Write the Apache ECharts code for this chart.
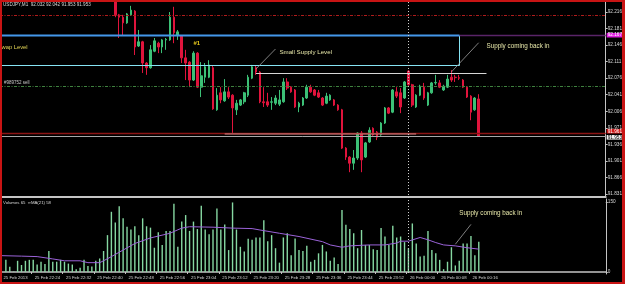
<!DOCTYPE html>
<html><head><meta charset="utf-8">
<script src="https://cdn.jsdelivr.net/npm/echarts@6/dist/echarts.min.js"></script>
<style>
html,body{margin:0;padding:0;background:#000;}
#wrap{position:relative;width:625px;height:284px;background:#000;overflow:hidden;}
#chart{position:absolute;left:0;top:0;width:625px;height:284px;}
#frame{position:absolute;left:0;top:0;width:625px;height:284px;box-sizing:border-box;border:solid #c81414;border-width:2px 3px 2px 2px;pointer-events:none;}
</style></head><body>
<div id="wrap"><div id="chart"></div><div id="frame"></div></div>
<script>
// ---------- data ----------
const titleText = 'USDJPY,M1  92.032 92.042 91.953 91.953';
const volumeTitle = 'Volumes 65  \u221EMA(21) 58';
const firstMinute = 22 * 60 + 16;      // first category = 25 Feb 22:16
const barCount = 155;                  // categories incl. empty right margin
const xTickStep = 8;
const xTickLabels = ['25 Feb 2013', '25 Feb 22:24', '25 Feb 22:32', '25 Feb 22:40', '25 Feb 22:48',
  '25 Feb 22:56', '25 Feb 23:04', '25 Feb 23:12', '25 Feb 23:20', '25 Feb 23:28', '25 Feb 23:36',
  '25 Feb 23:44', '25 Feb 23:52', '26 Feb 00:00', '26 Feb 00:08', '26 Feb 00:16'];
const priceTicks = [92.216, 92.181, 92.146, 92.111, 92.076, 92.041, 92.006, 91.971, 91.936, 91.901, 91.866, 91.831];
const volumeTicks = [0, 150];
const firstCandle = 29;                // category index of first visible candle
// [open, close, low, high]
const candles = [
  [92.260, 92.210, 92.205, 92.270], [92.210, 92.205, 92.161, 92.212], [92.205, 92.193, 92.167, 92.210],
  [92.193, 92.212, 92.191, 92.214], [92.210, 92.220, 92.208, 92.229], [92.218, 92.142, 92.125, 92.220],
  [92.144, 92.153, 92.142, 92.178], [92.153, 92.108, 92.087, 92.155], [92.108, 92.098, 92.083, 92.110],
  [92.098, 92.136, 92.096, 92.146], [92.133, 92.155, 92.131, 92.161], [92.150, 92.142, 92.129, 92.153],
  [92.142, 92.157, 92.129, 92.159], [92.157, 92.158, 92.136, 92.161], [92.157, 92.205, 92.155, 92.216],
  [92.205, 92.172, 92.150, 92.227], [92.167, 92.174, 92.157, 92.178], [92.165, 92.119, 92.108, 92.167],
  [92.119, 92.108, 92.072, 92.136], [92.110, 92.072, 92.057, 92.112], [92.072, 92.129, 92.070, 92.133],
  [92.129, 92.057, 92.055, 92.131], [92.057, 92.081, 92.036, 92.110], [92.078, 92.100, 92.066, 92.108],
  [92.078, 92.104, 92.076, 92.114], [92.098, 92.011, 92.009, 92.102], [92.009, 92.040, 92.007, 92.055],
  [92.045, 92.030, 92.023, 92.057], [92.028, 92.047, 92.026, 92.074], [92.047, 92.036, 92.032, 92.057],
  [92.040, 92.013, 91.960, 92.042], [92.009, 92.023, 91.998, 92.030], [92.019, 92.030, 92.017, 92.032],
  [92.026, 92.045, 92.021, 92.047], [92.040, 92.078, 92.036, 92.083], [92.076, 92.100, 92.074, 92.104],
  [92.098, 92.089, 92.083, 92.102], [92.089, 92.026, 92.023, 92.091], [92.026, 92.024, 92.015, 92.057],
  [92.026, 92.019, 92.015, 92.045], [92.025, 92.026, 92.009, 92.036], [92.023, 92.034, 92.019, 92.040],
  [92.021, 92.030, 92.017, 92.051], [92.026, 92.068, 92.024, 92.076], [92.068, 92.055, 92.051, 92.076],
  [92.057, 92.047, 92.045, 92.059], [92.051, 92.015, 92.013, 92.053], [92.015, 92.023, 92.004, 92.026],
  [92.019, 92.034, 92.017, 92.036], [92.034, 92.057, 92.032, 92.062], [92.057, 92.047, 92.045, 92.062],
  [92.051, 92.040, 92.038, 92.053], [92.045, 92.036, 92.034, 92.051], [92.034, 92.019, 92.017, 92.036],
  [92.023, 92.038, 92.021, 92.045], [92.030, 92.040, 92.028, 92.042], [92.030, 92.019, 92.017, 92.032],
  [92.019, 92.009, 92.007, 92.021], [92.009, 91.928, 91.926, 92.011], [91.928, 91.909, 91.903, 91.930],
  [91.909, 91.896, 91.877, 91.911], [91.896, 91.907, 91.882, 91.924], [91.907, 91.960, 91.903, 91.962],
  [91.960, 91.903, 91.877, 91.964], [91.909, 91.939, 91.907, 91.941], [91.941, 91.966, 91.939, 91.972],
  [91.970, 91.956, 91.954, 91.972], [91.962, 91.951, 91.945, 91.964], [91.956, 91.981, 91.954, 91.983],
  [91.981, 92.013, 91.979, 92.015], [92.013, 92.002, 92.000, 92.015], [92.004, 92.051, 92.002, 92.053],
  [92.047, 92.038, 92.034, 92.057], [92.045, 92.015, 92.002, 92.055], [92.034, 92.068, 92.032, 92.070],
  [92.091, 92.062, 92.060, 92.093], [92.062, 92.019, 92.015, 92.064], [92.015, 92.040, 92.013, 92.042],
  [92.040, 92.059, 92.038, 92.062], [92.057, 92.034, 92.030, 92.066], [92.019, 92.045, 92.017, 92.047],
  [92.045, 92.066, 92.043, 92.068], [92.066, 92.067, 92.062, 92.083], [92.066, 92.057, 92.055, 92.072],
  [92.051, 92.059, 92.049, 92.062], [92.057, 92.074, 92.055, 92.083], [92.078, 92.072, 92.068, 92.093],
  [92.078, 92.077, 92.068, 92.083], [92.077, 92.076, 92.072, 92.083], [92.072, 92.057, 92.055, 92.074],
  [92.057, 92.036, 92.034, 92.059], [92.038, 92.004, 91.987, 92.040], [92.009, 92.034, 92.007, 92.036],
  [92.032, 91.953, 91.953, 92.042]
];
const firstVolume = 1;
const volumes = [
  26, 11, 1, 24, 15, 24, 26, 26, 16, 22, 17, 45, 22, 22, 26, 22, 18, 16, 6, 9,
  26, 13, 12, 24, 29, 45, 79, 129, 106, 141, 115, 97, 91, 98, 79, 115, 98, 95, 52, 85,
  58, 88, 88, 146, 54, 108, 122, 88, 108, 92, 142, 91, 81, 91, 136, 91, 102, 47, 149, 91,
  54, 44, 71, 69, 74, 74, 111, 66, 79, 51, 20, 74, 83, 36, 72, 47, 45, 56, 22, 26,
  40, 58, 44, 24, 31, 17, 133, 101, 92, 83, 51, 90, 58, 58, 49, 47, 94, 76, 58, 99,
  74, 76, 64, 51, 104, 61, 33, 35, 88, 47, 40, 26, 6, 22, 53, 14, 24, 61, 61, 77,
  36, 65
];
// MA(21) line read at points: [category index, value]
const maPoints = [[0, 35], [5, 34], [9, 33], [13, 28], [16, 24], [20, 24], [22, 20], [25, 20], [26, 24],
  [28, 33], [31, 47], [34, 61], [38, 73], [43, 83], [46, 94], [48, 97], [54, 96], [59, 94], [64, 93],
  [66, 90], [71, 83], [76, 76], [82, 65], [84, 58], [87, 53], [89, 56], [94, 58], [98, 58], [101, 62],
  [102, 66], [104, 66], [107, 74], [109, 69], [111, 63], [113, 58], [116, 56], [119, 52], [122, 49]];
// price levels / objects
const redDashLevel = 92.210;
const boxTop = 92.167, boxBottom = 92.103, boxRightIdx = 117;
const sellLevel = 92.059;
const smallSupplyLevel = 92.087, smallSupplyFrom = 65, smallSupplyTo = 124;
const redLevel = 91.961;
const supportLevel = 91.959, supportFrom = 57, supportTo = 106;
const bidLevel = 91.953;
const midnightIdx = 104;

// ---------- chart ----------
const categories = [];
for (let k = 0; k < barCount; k++) {
  const m = (firstMinute + k) % 1440;
  categories.push(String(Math.floor(m / 60)).padStart(2, '0') + ':' + String(m % 60).padStart(2, '0'));
}
const candleData = [];
for (let k = 0; k < firstCandle; k++) candleData.push('-');
candles.forEach(c => candleData.push(c));
const volData = [];
for (let k = 0; k < firstVolume; k++) volData.push('-');
volumes.forEach(v => volData.push(v));

const FONT = '"Liberation Sans", Arial, sans-serif';
const AXC = '#c4c4c4';
const gridLeft = -1.26, gridWidth = 607.06;
const isTick = (i) => i % xTickStep === 0 && i / xTickStep < xTickLabels.length;

const chart = echarts.init(document.getElementById('chart'), null, { renderer: 'canvas' });
const option = {
  backgroundColor: '#000',
  animation: false,
  grid: [
    { left: gridLeft, top: 2, width: gridWidth, height: 195 },
    { left: gridLeft, top: 199, width: gridWidth, height: 75 }
  ],
  xAxis: [
    { type: 'category', gridIndex: 0, data: categories, boundaryGap: true,
      axisLine: { show: true, lineStyle: { color: AXC, width: 2 } },
      axisTick: { show: false }, axisLabel: { show: false }, splitLine: { show: false } },
    { type: 'category', gridIndex: 1, data: categories, boundaryGap: true,
      axisLine: { show: true, lineStyle: { color: AXC, width: 1.5 } },
      axisTick: { show: true, interval: isTick, length: 2, lineStyle: { color: AXC } },
      axisLabel: { show: true, interval: isTick, align: 'left', margin: 2, padding: [0, 0, 0, 1.5],
        color: '#d8d8d8', fontSize: 4.3, fontFamily: FONT,
        formatter: (v, i) => xTickLabels[i / xTickStep] || '' },
      splitLine: { show: false } }
  ],
  yAxis: [
    { type: 'value', gridIndex: 0, position: 'right', min: 91.8245, max: 92.2372,
      axisLine: { show: true, lineStyle: { color: AXC, width: 1 } },
      axisTick: { show: true, length: 2, customValues: priceTicks, lineStyle: { color: AXC } },
      axisLabel: { show: true, margin: 2, customValues: priceTicks, color: '#d8d8d8', fontSize: 4.7, fontFamily: FONT,
        formatter: v => v.toFixed(3) },
      splitLine: { show: false } },
    { type: 'value', gridIndex: 1, position: 'right', min: -4.29, max: 156.4,
      axisLine: { show: true, lineStyle: { color: AXC, width: 1 } },
      axisTick: { show: true, length: 2, customValues: volumeTicks, lineStyle: { color: AXC } },
      axisLabel: { show: true, margin: 2, customValues: volumeTicks, color: '#d8d8d8', fontSize: 4.7, fontFamily: FONT },
      splitLine: { show: false } }
  ],
  series: [
    { type: 'candlestick', xAxisIndex: 0, yAxisIndex: 0, data: candleData, clip: true,
      barWidth: 2.1,
      itemStyle: { color: '#3cc076', color0: '#e0143c', borderColor: '#3cc076', borderColor0: '#e0143c', borderWidth: 1 },
      z: 3 },
    { type: 'bar', xAxisIndex: 1, yAxisIndex: 1, data: volData, barWidth: 1.4,
      itemStyle: { color: '#86d8a2' } },
    { type: 'line', xAxisIndex: 1, yAxisIndex: 1, data: maPoints, symbol: 'none',
      lineStyle: { color: '#9b63d9', width: 1 }, z: 4 }
  ]
};
chart.setOption(option);

// ---------- annotation objects placed through the axes ----------
const P = (i, v) => chart.convertToPixel({ gridIndex: 0 }, [i, v]);
const V = (i, v) => chart.convertToPixel({ gridIndex: 1 }, [i, v]);
const bw = P(1, 92)[0] - P(0, 92)[0];
const axisX = P(barCount - 1, 92)[0] + bw / 2;
const yOf = v => Math.round(P(0, v)[1]) + 0.5;
const xOf = i => P(i, 92)[0];
const volTop = V(0, 156.4)[1], volBottom = V(0, -4.29)[1];

function hline(y, x1, x2, color, w, dash) {
  return { type: 'line', silent: true, z: 5, shape: { x1: x1, y1: y, x2: x2, y2: y },
    style: { stroke: color, lineWidth: w, lineDash: dash || null } };
}
function text(x, y, str, color, size, extra) {
  return Object.assign({ type: 'text', silent: true, z: 6, x: x, y: y,
    style: Object.assign({ text: str, fill: color, fontSize: size, fontFamily: FONT,
      align: 'left', verticalAlign: 'middle' }, extra || {}) });
}
const yTop = yOf(boxTop), yBot = yOf(boxBottom), xBox = Math.round(xOf(boxRightIdx)) + 0.5;
const dashDot = [3, 1.5, 1, 1.5];
const ssA = P(65.2, 92.0954), ssB = P(70.3, 92.1377);
const scA = P(114.9, 92.089), scB = P(122.4, 92.151);
const vA = V(116.2, 59.4), vB = V(119.6, 102);
const boxStyle = { padding: [0, 1, 0, 1], lineHeight: 4.6 };
const graphics = [
  hline(yOf(redDashLevel), 0, axisX, '#b01c1c', 1, dashDot),
  hline(yOf(sellLevel), 0, axisX, '#3f823f', 1, dashDot),
  { type: 'rect', silent: true, z: 5, shape: { x: 0, y: yTop, width: xBox, height: yBot - yTop },
    style: { fill: null, stroke: '#86e4f4', lineWidth: 1 } },
  hline(yTop, 0, xBox, '#4497ea', 2),
  hline(yTop, xBox, axisX, '#5a2468', 1.5),
  hline(yOf(smallSupplyLevel), xOf(smallSupplyFrom), xOf(smallSupplyTo), '#d6d6d6', 1),
  hline(yOf(redLevel), 0, axisX, '#8c1414', 1.5),
  hline(yOf(supportLevel) + 0.5, xOf(supportFrom), xOf(supportTo), '#d98a8a', 1),
  hline(yOf(bidLevel), 0, axisX, '#a8a8a8', 1),
  { type: 'line', silent: true, z: 5, shape: { x1: Math.round(xOf(midnightIdx)) + 0.5, y1: 2, x2: Math.round(xOf(midnightIdx)) + 0.5, y2: volBottom },
    style: { stroke: '#d0d0d0', lineWidth: 1, lineDash: [1, 2] } },
  { type: 'line', silent: true, z: 5, shape: { x1: ssA[0], y1: ssA[1], x2: ssB[0], y2: ssB[1] }, style: { stroke: '#a0a0a0', lineWidth: 0.8 } },
  { type: 'line', silent: true, z: 5, shape: { x1: scA[0], y1: scA[1], x2: scB[0], y2: scB[1] }, style: { stroke: '#a0a0a0', lineWidth: 0.8 } },
  { type: 'line', silent: true, z: 5, shape: { x1: vA[0], y1: vA[1], x2: vB[0], y2: vB[1] }, style: { stroke: '#a0a0a0', lineWidth: 0.8 } },
  text(P(71.3, 0)[0], P(0, 92.131)[1], 'Small Supply Level', '#e6e6a8', 6.2),
  text(P(123.9, 0)[0], P(0, 92.143)[1], 'Supply coming back in', '#e6e6a8', 6.3),
  text(V(116.9, 0)[0], V(0, 125.8)[1], 'Supply coming back in', '#e6e6a8', 6.3),
  text(P(49.4, 0)[0], P(0, 92.150)[1], '#1', '#e8c81c', 6, { fontWeight: 'bold' }),
  text(1.5, P(0, 92.141)[1], 'wap Level', '#e2d454', 5.8),
  text(4, P(0, 92.066)[1], '#989752 sell', '#c8c8c8', 4.5),
  text(3, 5, titleText, '#d8d8d8', 4.6),
  text(3, volTop + 3.5, volumeTitle, '#d8d8d8', 4.3),
  text(axisX + 1, P(0, boxTop)[1], boxTop.toFixed(3), '#ffffff', 4.7, Object.assign({ backgroundColor: '#e020e0' }, boxStyle)),
  text(axisX + 1, P(0, redLevel)[1] - 1.3, redLevel.toFixed(3), '#ffffff', 4.7, Object.assign({ backgroundColor: '#d01818' }, boxStyle)),
  text(axisX + 1, P(0, bidLevel)[1] + 1, bidLevel.toFixed(3), '#000000', 4.7, Object.assign({ backgroundColor: '#f0f0f0' }, boxStyle))
];
chart.setOption({ graphic: graphics });
</script>
</body></html>
